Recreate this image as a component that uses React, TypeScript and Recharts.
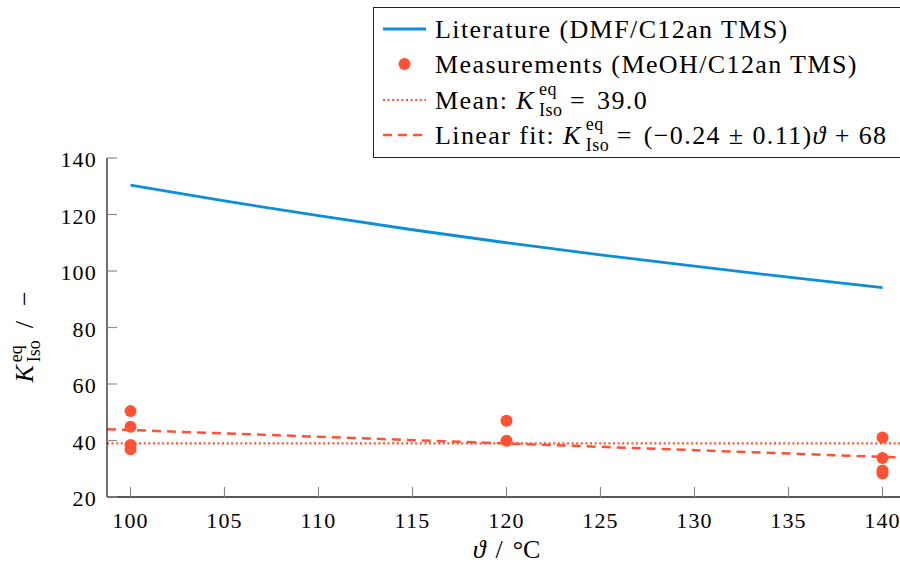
import React from "react";
import { ComposedChart, Line, Scatter, XAxis, YAxis, Legend, Label } from "recharts";

// literature curve (DMF/C12an TMS)
const LIT_TEMPS = [100, 105, 110, 115, 120, 125, 130, 135, 140];
const LIT_K = [130.4, 124.8, 119.6, 114.6, 110.0, 105.7, 101.7, 97.8, 94.1];

// measurements (MeOH/C12an TMS)
const MEAS_TEMPS = [100, 100, 100, 100, 120, 120, 140, 140, 140, 140];
const MEAS_K = [50.4, 44.9, 38.4, 36.9, 47.0, 39.9, 41.1, 33.8, 29.4, 28.3];

// mean and linear fit, drawn across the whole x range
const RANGE_TEMPS = [98.75, 141.25];
const MEAN_K = [39.0, 39.0];
const FIT_K = [44.0, 33.9];

const X_TICKS = [100, 105, 110, 115, 120, 125, 130, 135, 140];
const Y_TICKS = [20, 40, 60, 80, 100, 120, 140];

const BLUE = "#0a8fd8";
const RED = "#ff5233";
const SERIF = "'Liberation Serif', 'Times New Roman', serif";
const TICK_COLOR = "#8a8a8a";
const TICK_LEN = 10;
const FRAME = "#222";

const litData = LIT_TEMPS.map((x, i) => ({ x, y: LIT_K[i] }));
const measData = MEAS_TEMPS.map((x, i) => ({ x, y: MEAS_K[i] }));
const meanData = RANGE_TEMPS.map((x, i) => ({ x, y: MEAN_K[i] }));
const fitData = RANGE_TEMPS.map((x, i) => ({ x, y: FIT_K[i] }));

function BottomTick({ x, y, payload }: any) {
    return (
        <g>
            <line x1={x} x2={x} y1={y} y2={y - TICK_LEN} stroke={TICK_COLOR} strokeWidth={1.2} />
            <text x={x} y={y + 31} textAnchor="middle" fontFamily={SERIF} fontSize={22} letterSpacing={1.2} fill="#000">
                {payload.value}
            </text>
        </g>
    );
}

function TopTick({ x, y }: any) {
    return <line x1={x} x2={x} y1={y} y2={y + TICK_LEN} stroke={TICK_COLOR} strokeWidth={1.2} />;
}

function LeftTick({ x, y, payload }: any) {
    return (
        <g>
            <line x1={x} x2={x + TICK_LEN} y1={y} y2={y} stroke={TICK_COLOR} strokeWidth={1.2} />
            <text x={x - 10} y={y + 9} textAnchor="end" fontFamily={SERIF} fontSize={22} letterSpacing={1.2} fill="#000">
                {payload.value}
            </text>
        </g>
    );
}

function RightTick({ x, y }: any) {
    return <line x1={x} x2={x - TICK_LEN} y1={y} y2={y} stroke={TICK_COLOR} strokeWidth={1.2} />;
}

function YAxisLabel({ viewBox }: any) {
    const cx = viewBox.x + 33;
    const cy = viewBox.y + viewBox.height / 2 + 5;
    return (
        <text transform={`rotate(-90 ${cx} ${cy})`} x={cx - 50} y={cy} fontFamily={SERIF} fontSize={26} fill="#000">
            <tspan fontStyle="italic">K</tspan>
            <tspan fontSize={18} dy={-11} dx={3}>eq</tspan>
            <tspan fontSize={18} dx={-17} dy={18}>Iso</tspan>
            <tspan dx={12} dy={-7}>/</tspan>
            <tspan dx={15}>−</tspan>
        </text>
    );
}

function XAxisLabel({ viewBox }: any) {
    const cx = viewBox.x + viewBox.width / 2;
    return (
        <text x={cx} y={viewBox.y + 61} textAnchor="middle" fontFamily={SERIF} fontSize={26} fill="#000">
            <tspan fontStyle="italic">ϑ</tspan>
            <tspan dx={10}>/</tspan>
            <tspan dx={10}>°C</tspan>
        </text>
    );
}

function KIso() {
    return (
        <>
            <i>K</i>
            <span style={{ display: "inline-block", position: "relative", width: 28, height: "1em", marginLeft: 4, letterSpacing: 0.5 }}>
                <span style={{ position: "absolute", left: 0, top: -3, fontSize: 18, lineHeight: "18px" }}>eq</span>
                <span style={{ position: "absolute", left: 0, top: 18, fontSize: 18, lineHeight: "18px" }}>Iso</span>
            </span>
        </>
    );
}

function LegendIcon({ kind }: { kind: string }) {
    return (
        <svg width={43} height={20} style={{ verticalAlign: "middle", marginRight: 9, marginTop: -6 }}>
            {kind === "solid" && <line x1={0} x2={43} y1={10} y2={10} stroke={BLUE} strokeWidth={2.8} />}
            {kind === "dot" && <circle cx={21.5} cy={10} r={6} fill={RED} />}
            {kind === "dotted" && <line x1={0} x2={43} y1={10} y2={10} stroke={RED} strokeWidth={2.2} strokeDasharray="2 2.6" />}
            {kind === "dashed" && <line x1={0} x2={43} y1={10} y2={10} stroke={RED} strokeWidth={2.5} strokeDasharray="9 6" />}
        </svg>
    );
}

function ChartLegend() {
    const row: React.CSSProperties = { height: 35.3, lineHeight: "35.3px", whiteSpace: "nowrap" };
    const eq: React.CSSProperties = { margin: "0 3px" };
    return (
        <div
            style={{
                boxSizing: "border-box",
                width: 533,
                height: 151,
                border: `1.3px solid ${FRAME}`,
                background: "#fff",
                padding: "4px 0 0 9px",
                fontFamily: SERIF,
                fontSize: 26,
                letterSpacing: 1.4,
                color: "#000",
            }}
        >
            <div style={row}>
                <LegendIcon kind="solid" />
                Literature (DMF/C12an TMS)
            </div>
            <div style={row}>
                <LegendIcon kind="dot" />
                Measurements (MeOH/C12an TMS)
            </div>
            <div style={row}>
                <LegendIcon kind="dotted" />
                Mean: <KIso /><span style={eq}>=</span> 39.0
            </div>
            <div style={row}>
                <LegendIcon kind="dashed" />
                Linear fit: <KIso /><span style={eq}>=</span> (−0.24 ± 0.11)<i>ϑ</i> + 68
            </div>
        </div>
    );
}

export default function App() {
    return (
        <div style={{ position: "fixed", left: 0, top: 0, width: 900, height: 569, overflow: "hidden", background: "#fff" }}>
            <ComposedChart width={920} height={569} margin={{ top: 158, right: 14, bottom: 0, left: 0 }}>
                <XAxis
                    dataKey="x"
                    type="number"
                    domain={[98.75, 141.25]}
                    ticks={X_TICKS}
                    allowDataOverflow
                    height={72}
                    tickSize={0}
                    tickMargin={0}
                    tick={BottomTick}
                    axisLine={{ stroke: FRAME, strokeWidth: 1.3 }}
                    tickLine={false}
                >
                    <Label content={XAxisLabel} />
                </XAxis>
                <XAxis
                    xAxisId="top"
                    orientation="top"
                    dataKey="x"
                    type="number"
                    domain={[98.75, 141.25]}
                    ticks={X_TICKS}
                    allowDataOverflow
                    height={0}
                    tickSize={0}
                    tickMargin={0}
                    tick={TopTick}
                    axisLine={{ stroke: FRAME, strokeWidth: 1.3 }}
                    tickLine={false}
                />
                <YAxis
                    type="number"
                    domain={[20, 140]}
                    ticks={Y_TICKS}
                    allowDataOverflow
                    width={107}
                    tickSize={0}
                    tickMargin={0}
                    tick={LeftTick}
                    axisLine={{ stroke: FRAME, strokeWidth: 1.3 }}
                    tickLine={false}
                >
                    <Label content={YAxisLabel} />
                </YAxis>
                <YAxis
                    yAxisId="right"
                    orientation="right"
                    type="number"
                    domain={[20, 140]}
                    ticks={Y_TICKS}
                    allowDataOverflow
                    width={0}
                    tickSize={0}
                    tickMargin={0}
                    tick={RightTick}
                    axisLine={{ stroke: FRAME, strokeWidth: 1.3 }}
                    tickLine={false}
                />
                <Legend
                    layout="horizontal"
                    verticalAlign="middle"
                    align="center"
                    content={ChartLegend}
                    wrapperStyle={{ top: 7, left: 373, width: 533, height: 151 }}
                />
                <Line
                    data={litData}
                    dataKey="y"
                    name="Literature (DMF/C12an TMS)"
                    type="linear"
                    stroke={BLUE}
                    strokeWidth={2.8}
                    dot={false}
                    isAnimationActive={false}
                />
                <Scatter
                    data={measData}
                    dataKey="y"
                    name="Measurements (MeOH/C12an TMS)"
                    fill={RED}
                    shape={(p: any) => <circle cx={p.cx} cy={p.cy} r={6} fill={RED} />}
                    isAnimationActive={false}
                />
                <Line
                    data={meanData}
                    dataKey="y"
                    name="Mean"
                    type="linear"
                    stroke={RED}
                    strokeWidth={2.2}
                    strokeDasharray="2 2.6"
                    dot={false}
                    isAnimationActive={false}
                />
                <Line
                    data={fitData}
                    dataKey="y"
                    name="Linear fit"
                    type="linear"
                    stroke={RED}
                    strokeWidth={2.5}
                    strokeDasharray="9 6"
                    dot={false}
                    isAnimationActive={false}
                />
            </ComposedChart>
        </div>
    );
}
